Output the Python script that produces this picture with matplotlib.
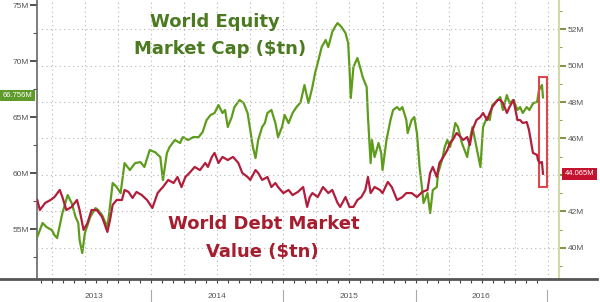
import matplotlib
matplotlib.use("Agg")
import matplotlib.pyplot as plt
from matplotlib.lines import Line2D
from matplotlib.patches import Rectangle

# world equity market cap, left axis (decimal year, value)
equity_year = [2013.14, 2013.18, 2013.21, 2013.25, 2013.27, 2013.29, 2013.33, 2013.37, 2013.40, 2013.43,
               2013.45, 2013.46, 2013.48, 2013.50, 2013.54, 2013.58, 2013.60, 2013.63, 2013.67, 2013.68,
               2013.71, 2013.74, 2013.77, 2013.79, 2013.80, 2013.84, 2013.88, 2013.92, 2013.95, 2013.99,
               2014.03, 2014.07, 2014.09, 2014.12, 2014.14, 2014.18, 2014.22, 2014.24, 2014.28, 2014.32,
               2014.36, 2014.39, 2014.42, 2014.45, 2014.48, 2014.51, 2014.54, 2014.56, 2014.58, 2014.61,
               2014.63, 2014.67, 2014.70, 2014.73, 2014.75, 2014.77, 2014.79, 2014.81, 2014.84, 2014.86,
               2014.88, 2014.91, 2014.94, 2014.96, 2014.99, 2015.01, 2015.04, 2015.07, 2015.10, 2015.13,
               2015.16, 2015.19, 2015.22, 2015.24, 2015.26, 2015.29, 2015.32, 2015.34, 2015.37, 2015.39,
               2015.41, 2015.44, 2015.47, 2015.49, 2015.50, 2015.51, 2015.53, 2015.56, 2015.58, 2015.60,
               2015.63, 2015.64, 2015.65, 2015.66, 2015.67, 2015.69, 2015.72, 2015.74, 2015.75, 2015.78,
               2015.81, 2015.83, 2015.86, 2015.88, 2015.90, 2015.93, 2015.94, 2015.97, 2015.99, 2016.01,
               2016.03, 2016.05, 2016.06, 2016.09, 2016.11, 2016.13, 2016.16, 2016.17, 2016.20, 2016.22,
               2016.24, 2016.26, 2016.28, 2016.30, 2016.32, 2016.35, 2016.37, 2016.39, 2016.41, 2016.43,
               2016.46, 2016.49, 2016.51, 2016.54, 2016.56, 2016.58, 2016.62, 2016.64, 2016.66, 2016.69,
               2016.71, 2016.74, 2016.77, 2016.79, 2016.81, 2016.84, 2016.86, 2016.89, 2016.918, 2016.933,
               2016.955, 2016.963]
equity_val = [54.29, 55.54, 55.18, 54.91, 54.46, 54.20, 56.43, 58.04, 57.32, 56.07,
              55.54, 54.02, 52.86, 54.64, 56.07, 56.87, 56.70, 56.25, 55.18, 56.07,
              59.11, 58.75, 58.21, 60.00, 60.89, 60.27, 60.89, 60.98, 60.54, 62.05,
              61.87, 61.43, 59.37, 61.79, 62.32, 62.95, 62.68, 63.21, 62.95, 63.21,
              63.21, 63.66, 64.73, 65.18, 65.36, 66.07, 65.36, 65.63, 64.11, 65.00,
              65.89, 66.52, 66.25, 65.36, 63.84, 62.32, 61.34, 62.95, 64.11, 64.46,
              65.36, 65.63, 64.46, 63.21, 64.11, 65.18, 64.46, 65.36, 65.90, 66.30,
              67.86, 66.25, 67.68, 68.93, 69.82, 71.25, 71.88, 71.25, 72.59, 73.04,
              73.39, 73.04, 72.50, 71.61, 69.46, 66.70, 69.46, 70.27, 69.46, 68.57,
              67.68, 65.00, 62.95, 60.89, 62.95, 61.43, 62.68, 61.79, 60.27, 62.95,
              64.73, 65.63, 65.89, 65.63, 65.89, 64.73, 63.57, 64.73, 65.00, 63.57,
              60.54, 58.48, 57.32, 58.21, 56.43, 58.48, 58.75, 60.00, 61.16, 62.32,
              62.95, 62.32, 63.21, 64.46, 64.11, 62.68, 62.05, 61.43, 62.95, 64.11,
              62.32, 60.54, 64.11, 65.00, 64.73, 66.07, 66.52, 66.79, 65.63, 66.96,
              66.25, 66.52, 65.63, 65.89, 65.36, 65.89, 65.63, 66.25, 66.34, 67.41,
              67.86, 66.756]

# world debt market value, right axis
debt_year = [2013.14, 2013.16, 2013.20, 2013.24, 2013.27, 2013.31, 2013.33, 2013.36, 2013.40, 2013.44,
             2013.46, 2013.49, 2013.52, 2013.55, 2013.59, 2013.63, 2013.67, 2013.69, 2013.71, 2013.74,
             2013.78, 2013.80, 2013.83, 2013.86, 2013.89, 2013.93, 2013.97, 2014.01, 2014.05, 2014.07,
             2014.09, 2014.13, 2014.17, 2014.20, 2014.23, 2014.26, 2014.29, 2014.33, 2014.37, 2014.41,
             2014.43, 2014.46, 2014.48, 2014.51, 2014.54, 2014.58, 2014.62, 2014.66, 2014.69, 2014.73,
             2014.75, 2014.79, 2014.81, 2014.84, 2014.88, 2014.91, 2014.94, 2014.96, 2015.00, 2015.04,
             2015.07, 2015.11, 2015.15, 2015.18, 2015.20, 2015.22, 2015.26, 2015.30, 2015.34, 2015.37,
             2015.41, 2015.43, 2015.47, 2015.50, 2015.53, 2015.56, 2015.59, 2015.62, 2015.64, 2015.66,
             2015.69, 2015.73, 2015.75, 2015.79, 2015.82, 2015.86, 2015.90, 2015.93, 2015.97, 2016.01,
             2016.05, 2016.09, 2016.11, 2016.13, 2016.16, 2016.18, 2016.21, 2016.24, 2016.26, 2016.28,
             2016.31, 2016.34, 2016.36, 2016.39, 2016.41, 2016.43, 2016.46, 2016.49, 2016.51, 2016.54,
             2016.56, 2016.58, 2016.62, 2016.64, 2016.66, 2016.69, 2016.71, 2016.74, 2016.77, 2016.79,
             2016.81, 2016.84, 2016.857, 2016.880, 2016.887, 2016.918, 2016.925, 2016.940, 2016.955, 2016.963]
debt_val = [42.63, 42.08, 42.47, 42.63, 42.79, 43.18, 42.79, 42.08, 42.25, 42.63,
            42.08, 40.99, 41.37, 42.08, 42.08, 41.70, 40.88, 41.53, 42.36, 42.63,
            42.63, 43.18, 43.07, 42.74, 43.07, 42.90, 42.63, 42.19, 43.01, 43.18,
            43.34, 43.73, 43.56, 43.89, 43.34, 43.89, 44.11, 44.44, 44.27, 44.66,
            44.44, 44.99, 45.21, 44.66, 44.99, 44.82, 44.99, 44.66, 44.11, 43.89,
            43.73, 44.27, 44.11, 43.73, 43.89, 43.34, 43.56, 43.34, 43.01, 43.18,
            42.90, 43.07, 43.34, 42.25, 42.79, 43.01, 42.79, 43.34, 43.01, 43.18,
            42.47, 42.25, 42.79, 42.25, 42.25, 42.63, 42.79, 43.18, 43.89, 43.01,
            43.34, 43.18, 43.01, 43.62, 43.34, 42.63, 42.79, 43.01, 43.01, 42.79,
            43.07, 43.18, 44.11, 44.44, 43.89, 44.66, 44.99, 45.37, 45.75, 45.92,
            46.30, 46.08, 45.92, 46.08, 45.64, 46.47, 47.01, 47.18, 47.40, 47.01,
            47.40, 47.73, 48.11, 48.11, 47.95, 47.40, 47.73, 48.11, 47.01, 47.01,
            46.85, 46.90, 46.47, 45.53, 45.21, 45.10, 44.82, 44.66, 44.71, 44.065]

years = ["2013", "2014", "2015", "2016"]
left_ticks = [55, 60, 65, 70, 75]
right_ticks = [40, 42, 44, 46, 48, 50, 52]
equity_last = "66.756M"
debt_last = "44.065M"

green = "#5e9c1c"
red = "#b21d3b"
tick_font = "Liberation Sans"

fig = plt.figure(figsize=(6, 3.02), dpi=100)
ax = fig.add_axes([37 / 600, 23 / 302, 522 / 600, 279 / 302])
ax2 = ax.twinx()

x0, x1 = 2013.138, 2017.084
ax.set_xlim(x0, x1)
ax.set_ylim(50.54, 75.45)
ax2.set_ylim(38.30, 53.59)

# dotted grid: quarters and right axis levels
q = 2013.25
while q < x1:
    ax.axvline(q, color="#b5b5b5", lw=0.8, ls=(0, (1, 3)), zorder=0)
    q += 0.25
for v in right_ticks:
    ax2.axhline(v, color="#b5b5b5", lw=0.8, ls=(0, (1, 3)), zorder=0)

ax.plot(equity_year, equity_val, color=green, lw=1.6, zorder=3)
ax2.plot(debt_year, debt_val, color=red, lw=1.6, zorder=3)

# left axis
ax.set_yticks(left_ticks)
ax.set_yticklabels([f"{t}M" for t in left_ticks], fontsize=6, color="#555555", family=tick_font)
ax.set_yticks([52.5, 57.5, 62.5, 67.5, 72.5], minor=True)
ax.tick_params(axis="y", which="major", length=5, width=1.2, color="#333333", pad=1)
ax.tick_params(axis="y", which="minor", length=3, width=0.8, color="#555555")

# right axis (44M label sits under the last value tag)
ax2.set_yticks(right_ticks)
ax2.set_yticklabels(["" if t == 44 else f"{t}M" for t in right_ticks], fontsize=6,
                    color="#555555", family=tick_font)
ax2.set_yticks([39, 41, 43, 45, 47, 49, 51, 53], minor=True)
ax2.tick_params(axis="y", which="major", length=5, width=1.2, color="#6f7d2b", pad=1)
ax2.tick_params(axis="y", which="minor", length=2.5, width=0.8, color="#9aa05a")

# x axis: monthly ticks, year labels between separators
months = []
for y in range(2013, 2017):
    for m in range(12):
        val = y + m / 12
        if x0 < val < x1:
            months.append(val)
ax.set_xticks(months)
ax.set_xticklabels([])
ax.tick_params(axis="x", length=3, width=0.8, color="#444444")

bounds = [x0, 2014, 2015, 2016, 2016.99]
xt = ax.get_xaxis_transform()
for i, lab in enumerate(years):
    ax.text((bounds[i] + bounds[i + 1]) / 2, -0.064, lab, transform=xt, ha="center", va="center",
            fontsize=6, color="#555555", family=tick_font)
for b in bounds[1:]:
    ax.plot([b, b], [-0.04, -0.085], transform=xt, color="#aaaaaa", lw=0.8, clip_on=False)

for a in (ax, ax2):
    a.spines["top"].set_visible(False)
    a.spines["bottom"].set_visible(False)
    a.set_facecolor("none")
ax.spines["left"].set_color("#666666")
ax.spines["left"].set_linewidth(1.2)
ax.spines["right"].set_visible(False)
ax2.spines["left"].set_visible(False)
ax2.spines["right"].set_color("#d2d8a6")
ax2.spines["right"].set_linewidth(1.5)

fig.add_artist(Line2D([0, 0.995], [23 / 302, 23 / 302], color="#555555", lw=2))

# highlight box around the last days
ax.add_patch(Rectangle((2016.933, 58.75), 0.06, 9.82, fill=False, ec="#e0474c", lw=1.5, zorder=4))

# series titles
fig.text(215 / 600, 1 - 22 / 302, "World Equity", ha="center", va="center",
         fontsize=13, fontweight="bold", color="#4b7a20")
fig.text(220 / 600, 1 - 49 / 302, "Market Cap ($tn)", ha="center", va="center",
         fontsize=13, fontweight="bold", color="#4b7a20")
fig.text(264 / 600, 1 - 224 / 302, "World Debt Market", ha="center", va="center",
         fontsize=13, fontweight="bold", color="#a61d2f")
fig.text(262 / 600, 1 - 252 / 302, "Value ($tn)", ha="center", va="center",
         fontsize=13, fontweight="bold", color="#a61d2f")

# last value tags
fig.text(17.5 / 600, 1 - 95.5 / 302, equity_last, ha="center", va="center", fontsize=5.5,
         color="white", family=tick_font,
         bbox=dict(boxstyle="square,pad=0.3", fc="#5f9b2a", ec="none"))
fig.text(579.5 / 600, 1 - 174 / 302, debt_last, ha="center", va="center", fontsize=5.5,
         color="white", family=tick_font,
         bbox=dict(boxstyle="square,pad=0.3", fc="#c4122f", ec="none"))

fig.savefig("out.png", dpi=100)
